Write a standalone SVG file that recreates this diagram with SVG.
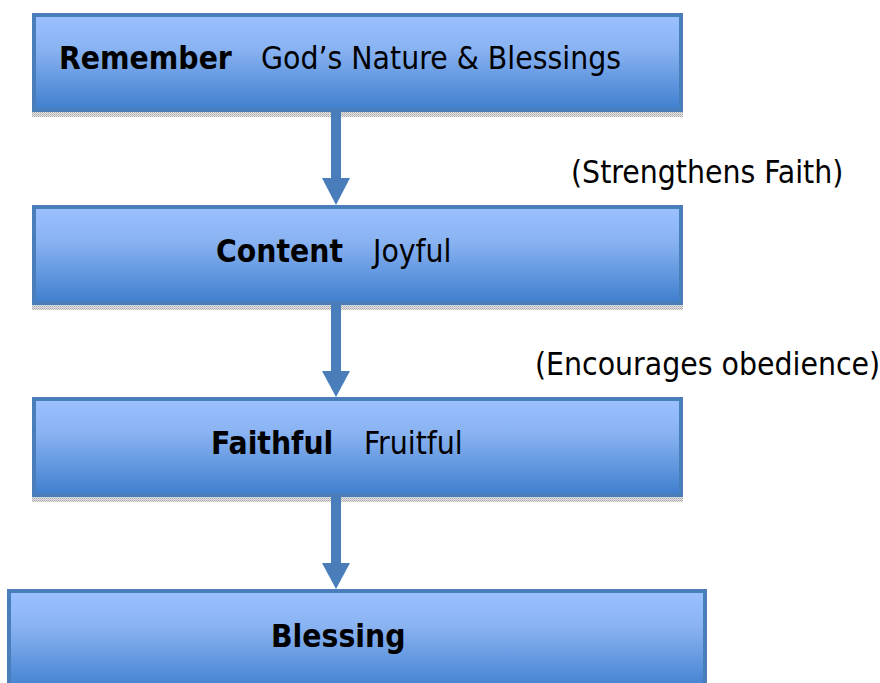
<svg xmlns="http://www.w3.org/2000/svg" width="880" height="683" viewBox="0 0 880 683">
<defs>
<linearGradient id="boxGrad" x1="0" y1="0" x2="0" y2="1">
<stop offset="0" stop-color="#9bc1ff"/>
<stop offset="0.35" stop-color="#8ab3f2"/>
<stop offset="1" stop-color="#3f7fcf"/>
</linearGradient>
<pattern id="stipple" width="2" height="2" patternUnits="userSpaceOnUse">
<rect width="2" height="2" fill="#e6e6e6"/>
<rect width="1" height="1" fill="#a8a8a8"/>
<rect x="1" y="1" width="1" height="1" fill="#bdbdbd"/>
</pattern>
</defs>
<style>
.box{fill:url(#boxGrad);stroke:#4a7ebb;stroke-width:4}
.shadow{fill:url(#stipple)}
.b{font-family:"DejaVu Sans Condensed","DejaVu Sans",sans-serif;font-weight:bold;font-size:31.5px;fill:#000}
.r{font-family:"DejaVu Sans Condensed","DejaVu Sans",sans-serif;font-size:31.6px;fill:#000}
.conn{stroke:#4a7ebb;stroke-width:10;fill:none}
.head{fill:#4a7ebb}
</style>
<rect width="880" height="683" fill="#ffffff"/>
<g id="node-remember">
<rect class="shadow" x="32" y="112" width="651" height="5"/>
<rect class="box" x="34" y="15" width="647" height="95"/>
<text class="b" x="59" y="69">Remember</text>
<text class="r" x="261" y="69">God’s Nature &amp; Blessings</text>
</g>
<g id="node-content">
<rect class="shadow" x="32" y="305" width="651" height="5"/>
<rect class="box" x="34" y="207" width="647" height="96"/>
<text class="b" x="216" y="262">Content</text>
<text class="r" x="373" y="262">Joyful</text>
</g>
<g id="node-faithful">
<rect class="shadow" x="32" y="497" width="651" height="5"/>
<rect class="box" x="34" y="399" width="647" height="96"/>
<text class="b" x="211" y="454">Faithful</text>
<text class="r" x="364" y="454">Fruitful</text>
</g>
<g id="node-blessing">
<rect class="box" x="9" y="591" width="696" height="100"/>
<text class="b" x="271" y="647">Blessing</text>
</g>
<g id="connectors">
<line class="conn" x1="336" y1="112" x2="336" y2="180"/>
<path class="head" d="M322,178 L350,178 L336,205 Z"/>
<line class="conn" x1="336" y1="305" x2="336" y2="373"/>
<path class="head" d="M322,371 L350,371 L336,397 Z"/>
<line class="conn" x1="336" y1="497" x2="336" y2="565"/>
<path class="head" d="M322,563 L350,563 L336,589 Z"/>
</g>
<g id="labels">
<text class="r" x="571" y="183">(Strengthens Faith)</text>
<text class="r" x="535" y="375">(Encourages obedience)</text>
</g>
</svg>
